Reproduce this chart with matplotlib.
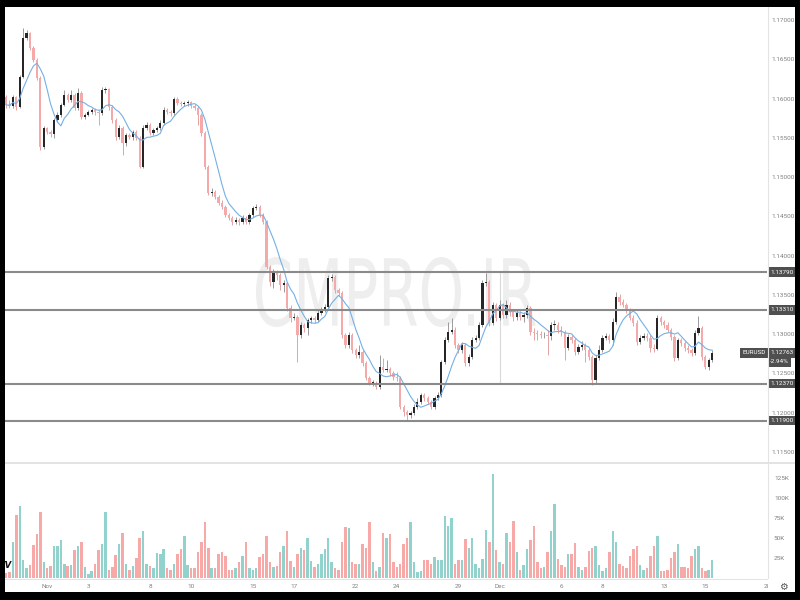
import numpy as np
import pandas as pd
import matplotlib
matplotlib.use("Agg")
import matplotlib.pyplot as plt
from matplotlib.patches import Rectangle, PathPatch
from matplotlib.textpath import TextPath
from matplotlib.font_manager import FontProperties
from matplotlib.transforms import Affine2D, blended_transform_factory

# EURUSD 4H candles, 28 Oct - 15 Dec
first_open = 1.1602
closes = [
    1.1592, 1.1591, 1.1602, 1.1589, 1.1627, 1.1677, 1.1683, 1.1664, 1.1649, 1.1626,
    1.1538, 1.1563, 1.1557, 1.1555, 1.1573, 1.1579, 1.1592, 1.1605, 1.1598, 1.1605,
    1.1588, 1.1607, 1.1577, 1.1579, 1.1583, 1.1585, 1.1583, 1.1582, 1.1611, 1.1612,
    1.1589, 1.1573, 1.1551, 1.1563, 1.1543, 1.1554, 1.1551, 1.1557, 1.1550, 1.1513,
    1.1563, 1.1566, 1.1556, 1.1560, 1.1563, 1.1569, 1.1585, 1.1583, 1.1582, 1.1599,
    1.1594, 1.1593, 1.1594, 1.1596, 1.1591, 1.1588, 1.1579, 1.1556, 1.1513, 1.1480,
    1.1481, 1.1475, 1.1467, 1.1462, 1.1452, 1.1448, 1.1443, 1.1445, 1.1443, 1.1448,
    1.1443, 1.1452, 1.1461, 1.1462, 1.1452, 1.1443, 1.1386, 1.1366, 1.1379, 1.1375,
    1.1363, 1.1365, 1.1333, 1.1321, 1.1322, 1.1299, 1.1312, 1.1308, 1.1318, 1.1321,
    1.1318, 1.1327, 1.1331, 1.1335, 1.1372, 1.1373, 1.1356, 1.1352, 1.1299, 1.1286,
    1.1299, 1.1280, 1.1274, 1.1277, 1.1263, 1.1244, 1.1238, 1.1238, 1.1233, 1.1258,
    1.1254, 1.1256, 1.1251, 1.1246, 1.1244, 1.1207, 1.1201, 1.1197, 1.1200, 1.1207,
    1.1214, 1.1223, 1.1219, 1.1214, 1.1207, 1.1219, 1.1223, 1.1265, 1.1293, 1.1303,
    1.1305, 1.1286, 1.1280, 1.1286, 1.1263, 1.1271, 1.1293, 1.1295, 1.1312, 1.1365,
    1.1366, 1.1314, 1.1337, 1.1321, 1.1337, 1.1324, 1.1337, 1.1328, 1.1322, 1.1327,
    1.1322, 1.1324, 1.1333, 1.1303, 1.1302, 1.1300, 1.1299, 1.1299, 1.1298, 1.1312,
    1.1312, 1.1305, 1.1303, 1.1282, 1.1296, 1.1293, 1.1277, 1.1284, 1.1286, 1.1280,
    1.1271, 1.1242, 1.1270, 1.1280, 1.1295, 1.1298, 1.1293, 1.1316, 1.1347, 1.1341,
    1.1337, 1.1331, 1.1321, 1.1314, 1.1290, 1.1295, 1.1298, 1.1295, 1.1282, 1.1281,
    1.1321, 1.1316, 1.1312, 1.1305, 1.1296, 1.1270, 1.1293, 1.1289, 1.1282, 1.1280,
    1.1276, 1.1302, 1.1308, 1.1271, 1.1258, 1.1267, 1.1276,
]
highs = [
    1.1605, 1.1598, 1.1605, 1.1603, 1.1630, 1.1690, 1.1687, 1.1685, 1.1667, 1.1652,
    1.1629, 1.1565, 1.1564, 1.1560, 1.1575, 1.1583, 1.1594, 1.1611, 1.1607, 1.1611,
    1.1607, 1.1613, 1.1610, 1.1582, 1.1585, 1.1588, 1.1588, 1.1585, 1.1615, 1.1615,
    1.1613, 1.1592, 1.1575, 1.1566, 1.1565, 1.1556, 1.1556, 1.1560, 1.1560, 1.1552,
    1.1566, 1.1570, 1.1569, 1.1563, 1.1565, 1.1573, 1.1589, 1.1588, 1.1585, 1.1602,
    1.1602, 1.1597, 1.1597, 1.1598, 1.1597, 1.1593, 1.1591, 1.1582, 1.1559, 1.1515,
    1.1486, 1.1484, 1.1477, 1.1471, 1.1465, 1.1454, 1.1450, 1.1449, 1.1448, 1.1452,
    1.1450, 1.1454, 1.1463, 1.1466, 1.1465, 1.1454, 1.1445, 1.1388, 1.1383, 1.1382,
    1.1378, 1.1369, 1.1366, 1.1337, 1.1327, 1.1324, 1.1316, 1.1314, 1.1321, 1.1323,
    1.1323, 1.1331, 1.1335, 1.1338, 1.1375, 1.1377, 1.1375, 1.1359, 1.1355, 1.1302,
    1.1303, 1.1302, 1.1282, 1.1286, 1.1280, 1.1266, 1.1247, 1.1242, 1.1240, 1.1274,
    1.1270, 1.1267, 1.1258, 1.1253, 1.1252, 1.1247, 1.1210, 1.1204, 1.1202, 1.1211,
    1.1219, 1.1225, 1.1225, 1.1221, 1.1216, 1.1221, 1.1226, 1.1267, 1.1296, 1.1316,
    1.1321, 1.1309, 1.1289, 1.1290, 1.1289, 1.1275, 1.1296, 1.1299, 1.1316, 1.1369,
    1.1378, 1.1369, 1.1341, 1.1340, 1.1344, 1.1340, 1.1344, 1.1341, 1.1332, 1.1331,
    1.1330, 1.1328, 1.1337, 1.1336, 1.1308, 1.1305, 1.1304, 1.1303, 1.1305, 1.1316,
    1.1318, 1.1316, 1.1310, 1.1305, 1.1300, 1.1299, 1.1295, 1.1288, 1.1291, 1.1289,
    1.1282, 1.1274, 1.1274, 1.1286, 1.1299, 1.1302, 1.1300, 1.1321, 1.1354, 1.1351,
    1.1345, 1.1340, 1.1333, 1.1324, 1.1318, 1.1299, 1.1302, 1.1302, 1.1299, 1.1288,
    1.1324, 1.1323, 1.1318, 1.1316, 1.1308, 1.1299, 1.1295, 1.1295, 1.1291, 1.1286,
    1.1282, 1.1305, 1.1323, 1.1310, 1.1274, 1.1270, 1.1280,
]
lows = [
    1.1588, 1.1588, 1.1588, 1.1585, 1.1588, 1.1626, 1.1675, 1.1662, 1.1647, 1.1624,
    1.1535, 1.1536, 1.1555, 1.1551, 1.1550, 1.1570, 1.1577, 1.1591, 1.1596, 1.1596,
    1.1585, 1.1585, 1.1574, 1.1574, 1.1578, 1.1580, 1.1579, 1.1566, 1.1579, 1.1607,
    1.1585, 1.1569, 1.1547, 1.1549, 1.1528, 1.1540, 1.1549, 1.1547, 1.1547, 1.1512,
    1.1512, 1.1560, 1.1554, 1.1554, 1.1557, 1.1560, 1.1566, 1.1580, 1.1578, 1.1579,
    1.1592, 1.1591, 1.1591, 1.1591, 1.1588, 1.1585, 1.1566, 1.1552, 1.1510, 1.1477,
    1.1476, 1.1472, 1.1465, 1.1459, 1.1449, 1.1445, 1.1439, 1.1440, 1.1439, 1.1440,
    1.1440, 1.1440, 1.1449, 1.1458, 1.1449, 1.1440, 1.1383, 1.1361, 1.1359, 1.1369,
    1.1356, 1.1354, 1.1330, 1.1316, 1.1318, 1.1265, 1.1295, 1.1303, 1.1299, 1.1314,
    1.1314, 1.1316, 1.1324, 1.1328, 1.1332, 1.1368, 1.1352, 1.1349, 1.1295, 1.1282,
    1.1282, 1.1276, 1.1270, 1.1270, 1.1260, 1.1242, 1.1235, 1.1234, 1.1230, 1.1230,
    1.1252, 1.1252, 1.1247, 1.1242, 1.1240, 1.1205, 1.1196, 1.1191, 1.1193, 1.1197,
    1.1205, 1.1211, 1.1215, 1.1211, 1.1205, 1.1205, 1.1216, 1.1220, 1.1262, 1.1290,
    1.1300, 1.1282, 1.1276, 1.1276, 1.1260, 1.1260, 1.1268, 1.1290, 1.1293, 1.1309,
    1.1361, 1.1310, 1.1312, 1.1317, 1.1318, 1.1321, 1.1321, 1.1323, 1.1317, 1.1318,
    1.1318, 1.1316, 1.1321, 1.1299, 1.1293, 1.1293, 1.1295, 1.1295, 1.1274, 1.1293,
    1.1305, 1.1302, 1.1298, 1.1267, 1.1280, 1.1289, 1.1274, 1.1275, 1.1280, 1.1265,
    1.1267, 1.1235, 1.1238, 1.1267, 1.1277, 1.1293, 1.1289, 1.1286, 1.1313, 1.1337,
    1.1335, 1.1327, 1.1318, 1.1310, 1.1286, 1.1288, 1.1293, 1.1291, 1.1277, 1.1277,
    1.1280, 1.1312, 1.1308, 1.1303, 1.1293, 1.1266, 1.1267, 1.1285, 1.1279, 1.1276,
    1.1272, 1.1274, 1.1299, 1.1267, 1.1256, 1.1254, 1.1265,
]
volumes_k = [
    6, 7, 45, 79, 90, 22, 12, 16, 41, 55, 82, 20, 12, 15, 40, 40, 47, 17, 15, 16,
    35, 40, 45, 14, 5, 9, 18, 35, 42, 82, 10, 14, 29, 43, 56, 18, 10, 15, 25, 50,
    59, 18, 15, 12, 31, 30, 36, 13, 10, 18, 30, 36, 52, 16, 12, 12, 33, 45, 70, 37,
    13, 12, 30, 33, 28, 10, 10, 12, 20, 28, 45, 12, 10, 12, 26, 30, 52, 20, 14, 15,
    33, 40, 59, 21, 14, 30, 38, 35, 50, 21, 14, 18, 30, 36, 50, 20, 12, 10, 45, 64,
    63, 20, 18, 18, 42, 38, 70, 20, 9, 14, 56, 50, 55, 20, 14,
    18, 42, 50, 70, 20, 8, 9, 22, 22, 18, 26, 22, 22, 77, 65, 75, 18, 23, 22, 49,
    38, 50, 17, 13, 24, 60, 45, 130, 35, 20, 17, 56, 45, 71, 33, 10, 16, 36, 47, 65,
    20, 12, 14, 33, 59, 93, 24, 16, 14, 30, 30, 44, 14, 10, 14, 34, 37, 40, 16, 9,
    13, 33, 59, 45, 18, 15, 12, 28, 36, 40, 16, 10, 13, 28, 40, 52, 9, 9, 10, 25,
    33, 42, 14, 14, 12, 28, 36, 40, 12, 9, 10, 22,
]

# date axis: first Nov candle index, candles per trading day
nov1_index = 12
candles_per_day = 6
day_offsets = [0, 2, 5, 7, 10, 12, 15, 17, 20, 22, 25, 27, 30, 32, 35]
day_labels = ["Nov", "3", "8", "10", "15", "17", "22", "24", "29", "Dec", "6", "8", "13", "15", "20"]

levels = [1.13790, 1.13310, 1.12370, 1.11900]
price_ticks = [1.115, 1.120, 1.125, 1.130, 1.135, 1.140, 1.145, 1.150, 1.155, 1.160, 1.165, 1.170]
vol_ticks = [25000, 50000, 75000, 100000, 125000]
vol_tick_labels = ["25K", "50K", "75K", "100K", "125K"]
symbol = "EURUSD"
last_price = 1.12763
change_pct = -2.94
dec1_index = nov1_index + candles_per_day * 22

UP, DN = "#262626", "#f5a9a9"
UP_WICK, DN_WICK = "#9a9a9a", "#e2a4a4"
VOL_UP, VOL_DN = "#92d2cc", "#f7a9a7"
AXIS_TXT = "#808080"
BOX = "#4f4f4f"
SMALL = ["Roboto", "DejaVu Sans"]
FS = 4.6

W, H = 800, 600
fig = plt.figure(figsize=(8, 6), dpi=100, facecolor="black")
# white chart area inside the black frame
fig.patches.append(Rectangle((5 / W, 1 - 592 / H), 790 / W, 585 / H,
                             transform=fig.transFigure, fc="white", ec="none", zorder=-5))

ax = fig.add_axes([5 / W, 1 - 462 / H, 762 / W, 455 / H])
axv = fig.add_axes([5 / W, 1 - 578 / H, 762 / W, 115 / H], sharex=ax)

idx = np.arange(len(closes))
c = np.array(closes)
o = np.array([first_open] + closes[:-1])
up = c >= o

# watermark
wm = TextPath((0, 0), "CMPRO.IR", size=1, prop=FontProperties(family="DejaVu Sans"))
bb = wm.get_extents()
sx = (280 / W) / bb.width
sy = (70 / H) / bb.height
tr = Affine2D().translate(-bb.x0, -bb.y0).scale(sx, sy).translate(256 / W, 1 - 327 / H)
ax.add_patch(PathPatch(wm, transform=tr + fig.transFigure, fc="#eeeeee", ec="none", zorder=0.5))

# candles
ax.vlines(idx, lows, highs, colors=np.where(up, UP_WICK, DN_WICK), linewidth=0.7, zorder=2)
ax.bar(idx, np.maximum(np.abs(c - o), 0.00006), bottom=np.minimum(o, c), width=0.66,
       color=np.where(up, UP, DN), linewidth=0, zorder=3)

ma = pd.Series(closes).rolling(7, min_periods=1).mean()
ax.plot(idx, ma, color="#74b0e6", lw=0.8, zorder=4)

# vertical marker on Dec 1 between two of the levels
ax.vlines([dec1_index], levels[3] + 0.0047, levels[0], colors="#d9d9d9", lw=0.8, zorder=1)

box = dict(boxstyle="square,pad=0.35", fc=BOX, ec="none")
blend = blended_transform_factory(ax.transAxes, ax.transData)
for lv in levels:
    ax.axhline(lv, color="#8a8a8a", lw=1.5, zorder=5)
    ax.text(1.004, lv, f"{lv:.5f}", transform=blend, ha="left", va="center",
            fontsize=FS, family=SMALL, color="white", clip_on=False, zorder=10, bbox=box)

# last price labels
ax.text(0.998, last_price, symbol, transform=blend, ha="right", va="center",
        fontsize=FS, family=SMALL, color="white", zorder=10, bbox=box)
ax.text(1.004, last_price, f"{last_price:.5f}", transform=blend, ha="left", va="center",
        fontsize=FS, family=SMALL, color="white", clip_on=False, zorder=10, bbox=box)
ax.annotate(f"{change_pct:.2f}%", xy=(1.004, last_price), xycoords=blend,
            xytext=(0, -6.5), textcoords="offset points", ha="left", va="center",
            fontsize=FS, family=SMALL, color="white", annotation_clip=False, zorder=10,
            bbox=box)

ax.set_ylim(1.113733, 1.171655)
ax.set_xlim(-0.3, 221.9)
ax.yaxis.tick_right()
ax.set_yticks(price_ticks)
ax.set_yticklabels([f"{t:.5f}" for t in price_ticks], family=SMALL)
ax.tick_params(axis="y", length=0, pad=3, labelsize=FS, labelcolor=AXIS_TXT)
ax.tick_params(axis="x", bottom=False, labelbottom=False)
for s in ax.spines.values():
    s.set_visible(False)

# volume pane
axv.bar(idx, np.array(volumes_k) * 1000, width=0.72, color=np.where(up, VOL_UP, VOL_DN), linewidth=0)
axv.set_ylim(0, 143750)
axv.yaxis.tick_right()
axv.set_yticks(vol_ticks)
axv.set_yticklabels(vol_tick_labels, family=SMALL)
axv.tick_params(axis="y", length=0, pad=5, labelsize=FS, labelcolor=AXIS_TXT)
axv.set_xticks([nov1_index + candles_per_day * d for d in day_offsets])
axv.set_xticklabels(day_labels, family=SMALL)
axv.tick_params(axis="x", length=0, pad=4, labelsize=FS, labelcolor=AXIS_TXT)
for s in axv.spines.values():
    s.set_visible(False)

# pane separators
sep = dict(transform=fig.transFigure, color="#e3e3e3", zorder=6)
fig.add_artist(plt.Line2D([767.5 / W, 767.5 / W], [1 - 592 / H, 1 - 7 / H], lw=0.8, **sep))
fig.add_artist(plt.Line2D([5 / W, 795 / W], [1 - 462.5 / H, 1 - 462.5 / H], lw=1.4, **sep))
fig.add_artist(plt.Line2D([5 / W, 767 / W], [1 - 578.5 / H, 1 - 578.5 / H], lw=0.7, **sep))

# bottom-right corner with settings icon
fig.patches.append(Rectangle((768 / W, 1 - 592 / H), 27 / W, 13 / H,
                             transform=fig.transFigure, fc="white", ec="none", zorder=7))
fig.text(783 / W, 1 - 587 / H, "\u2699", fontsize=7, color="#555555",
         ha="center", va="center", zorder=8)
fig.text(12 / W, 1 - 565 / H, "TV", fontsize=6, fontweight="bold", style="italic",
         color="#111111", ha="right", va="center", zorder=3)

# black frame on top
for x0, y0, w, h in [(0, 0, 5, 600), (795, 0, 5, 600), (0, 0, 800, 7), (0, 592, 800, 8)]:
    fig.patches.append(Rectangle((x0 / W, 1 - (y0 + h) / H), w / W, h / H,
                                 transform=fig.transFigure, fc="black", ec="none", zorder=20))

fig.savefig("out.png", dpi=100, facecolor="black")
